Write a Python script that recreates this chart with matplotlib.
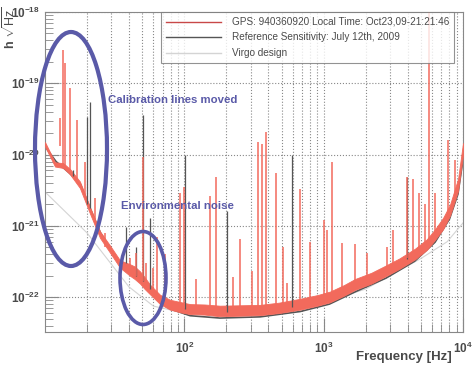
import matplotlib
matplotlib.use("Agg")
import matplotlib.pyplot as plt
from matplotlib.patches import Ellipse
from matplotlib.lines import Line2D
from matplotlib.ticker import LogLocator, NullFormatter

plt.rcParams["font.family"] = ["Liberation Sans", "DejaVu Sans"]
plt.rcParams["mathtext.fontset"] = "custom"
plt.rcParams["mathtext.rm"] = "Liberation Sans"
plt.rcParams["mathtext.bf"] = "Liberation Sans:bold"

# -----------------------------
# Data
# -----------------------------
# red band (Oct 23 spectrum): lower / upper edge
band_f = [10, 11.8, 13.5, 15.1, 17.8, 21, 24.8, 29.3, 34.5, 40.7, 44, 48.1, 52, 56.7,
          67, 79, 95, 110, 140, 180, 250, 349, 480, 677, 900, 1112, 1400, 1680, 2200,
          2760, 3500, 4530, 5500, 6310, 7200, 8080, 9220, 10000]
band_lo = [1.3e-20, 6.8e-21, 6.5e-21, 5.3e-21, 3.4e-21, 1.5e-21, 6.8e-22, 4.2e-22,
           2.6e-22, 2.0e-22, 1.8e-22, 1.55e-22, 1.3e-22, 1.1e-22, 8e-23, 6.7e-23,
           6.1e-23, 5.8e-23, 5.7e-23, 5.4e-23, 5.5e-23, 5.6e-23, 6.0e-23, 6.7e-23,
           7.6e-23, 8.5e-23, 1.05e-22, 1.27e-22, 1.55e-22, 1.95e-22, 2.5e-22, 3.4e-22,
           4.6e-22, 6.4e-22, 9.0e-22, 1.4e-21, 3.1e-21, 9.8e-21]
band_hi = [1.5e-20, 7.8e-21, 7.6e-21, 6.3e-21, 4.2e-21, 1.85e-21, 8.4e-22, 5.3e-22,
           3.3e-22, 2.9e-22, 2.7e-22, 2.3e-22, 1.9e-22, 1.5e-22, 1.08e-22, 9.2e-23,
           8.5e-23, 8.0e-23, 7.9e-23, 7.6e-23, 7.7e-23, 7.8e-23, 8.4e-23, 9.5e-23,
           1.07e-22, 1.2e-22, 1.48e-22, 1.8e-22, 2.2e-22, 2.75e-22, 3.5e-22, 4.8e-22,
           6.5e-22, 9.0e-22, 1.3e-21, 2.0e-21, 4.6e-21, 1.45e-20]

# red lines
red_peak_f = [12.8, 13.5, 13.9, 15.1, 17.0, 19.5, 23, 27, 41, 45, 50.6, 53, 60, 63.7,
              72.6, 93.1, 99.5, 121, 153, 169, 224, 251, 306, 338, 361, 386, 455, 511,
              546, 677, 799, 1007, 1057, 1148, 1355, 1680, 2050, 2850, 3150, 3970, 4390,
              4840, 5350, 5710, 6310, 7820, 8770]
red_peak_top = [3.3e-20, 2.9e-19, 1.9e-19, 8.7e-20, 3.1e-20, 8e-21, 2.5e-21, 8e-22,
                3.6e-22, 4.2e-22, 9.3e-21, 3.0e-22, 2.6e-22, 7.1e-22, 4.0e-22, 2.9e-21,
                3.5e-21, 1.8e-22, 2.6e-21, 4.9e-21, 1.9e-22, 6.5e-22, 2.3e-22, 1.5e-20,
                1.4e-20, 2.1e-20, 5.6e-21, 5.1e-22, 1.6e-22, 3.3e-21, 6.0e-22, 1.2e-21,
                8.9e-22, 7.8e-21, 5.8e-22, 5.5e-22, 4.2e-22, 5.1e-22, 8.9e-22, 4.9e-21,
                4.5e-21, 2.9e-21, 2.0e-21, 1e-18, 2.9e-21, 1.6e-20, 8.5e-21]
red_peak_base = [1.3e-20, 7e-21, 7e-21, 6e-21, 4e-21, 2.5e-21, 1.1e-21, 5e-22, 2.4e-22,
                 2e-22, 1.7e-22, 1.5e-22, 1.2e-22, 1.1e-22, 9e-23, 7e-23, 7e-23, 6.8e-23,
                 6.5e-23, 6.5e-23, 6.3e-23, 6.3e-23, 6.4e-23, 6.4e-23, 6.5e-23, 6.5e-23,
                 6.8e-23, 7e-23, 7.2e-23, 7.9e-23, 8.5e-23, 1e-22, 1e-22, 1.05e-22,
                 1.2e-22, 1.5e-22, 1.8e-22, 2.4e-22, 2.7e-22, 3.6e-22, 4e-22, 4.5e-22,
                 5e-22, 5.5e-22, 7.6e-22, 1.4e-21, 2.5e-21]

# reference sensitivity (July 12th, 2009)
ref_f = [10, 12, 15, 18, 21, 25, 30, 35, 40, 48, 57, 67, 80, 110, 180, 350, 680,
         1100, 1700, 2800, 4500, 6300, 8000, 9200, 10000]
ref_h = [1.3e-20, 8e-21, 5.5e-21, 3.8e-21, 1.8e-21, 8e-22, 4.5e-22, 2.8e-22, 2.2e-22,
         1.9e-22, 1.2e-22, 8.5e-23, 6.8e-23, 5.5e-23, 5.1e-23, 5.3e-23, 6.3e-23, 8.0e-23,
         1.2e-22, 1.85e-22, 3.2e-22, 5.9e-22, 1.25e-21, 2.8e-21, 8.5e-21]
ref_peak_f = [16, 20.0, 21.0, 38.1, 45, 50.6, 56.7, 101, 203, 593, 3970]
ref_peak_top = [6e-21, 3.4e-20, 5.5e-20, 9.8e-22, 5e-22, 3.6e-20, 1.3e-21, 1e-20, 1.6e-21,
                1e-20, 4.9e-21]
ref_peak_base = [5e-21, 2e-21, 1.8e-21, 3e-22, 2e-22, 1.7e-22, 1.3e-22, 6.8e-23, 6.2e-23,
                 7.2e-23, 3.4e-22]

# Virgo design curve
design_f = [10, 20, 40, 60, 100, 200, 500, 1000, 2000, 5000, 7700, 10000]
design_h = [3e-21, 8e-22, 1.4e-22, 7.5e-23, 6e-23, 5.8e-23, 6.2e-23, 8.5e-23, 1.3e-22,
            3.5e-22, 6e-22, 1.1e-21]

x_ticks = [100, 1000, 10000]
y_ticks = [1e-22, 1e-21, 1e-20, 1e-19, 1e-18]

legend_labels = ["GPS: 940360920 Local Time: Oct23,09-21:21:46",
                 "Reference Sensitivity: July 12th, 2009",
                 "Virgo design"]

red = "#f26a5c"
dark = "#555555"
light = "#d4d4d4"
blue = "#5a5aa8"
txt = "#4a4a4a"

fig = plt.figure(figsize=(4.75, 3.65), dpi=100)
ax = fig.add_axes([45 / 475, 1 - 332 / 365, 418 / 475, 320 / 365])
ax.set_xscale("log")
ax.set_yscale("log")

ax.plot(design_f, design_h, color=light, lw=0.8, zorder=1)
ax.plot(ref_f, ref_h, color=dark, lw=1.2, zorder=2)
ax.fill_between(band_f, band_lo, band_hi, color=red, lw=0.6, zorder=3)
ax.vlines(ref_peak_f, ref_peak_base, ref_peak_top, color=dark, lw=0.9, zorder=4)
ax.vlines(red_peak_f, red_peak_base, red_peak_top, color=red, lw=1.1, zorder=5)

# grid / ticks
ax.xaxis.set_minor_locator(LogLocator(base=10, subs=range(2, 10), numticks=20))
ax.xaxis.set_minor_formatter(NullFormatter())
ax.yaxis.set_minor_locator(LogLocator(base=10, subs=range(2, 10), numticks=20))
ax.yaxis.set_minor_formatter(NullFormatter())
ax.set_xticks(x_ticks)
ax.set_yticks(y_ticks)
ax.set_xlim(10, 1e4)
ax.set_ylim(3.25e-23, 1e-18)
ax.grid(True, which="major", color="#888888", ls=":", lw=0.8)
ax.grid(True, which="minor", axis="x", color="#888888", ls=":", lw=0.8)
ax.set_axisbelow(True)
ax.tick_params(which="both", direction="in", colors="#888888", labelcolor=txt,
               labelsize=8.5, top=False, right=False)
ax.tick_params(which="major", length=10)
ax.tick_params(which="minor", length=6)
ax.tick_params(axis="x", pad=6)
for lab in ax.get_xticklabels() + ax.get_yticklabels():
    lab.set_fontweight("bold")
for s in ax.spines.values():
    s.set_color("#888888")
    s.set_linewidth(0.8)

# legend
handles = [Line2D([], [], color="#c84848", lw=1.0),
           Line2D([], [], color=dark, lw=1.0),
           Line2D([], [], color=light, lw=1.0)]
leg = fig.legend(handles, legend_labels, loc="upper right",
                 bbox_to_anchor=(454 / 475, 1 - 12 / 365), fontsize=7.2,
                 frameon=True, fancybox=False, handlelength=5.5, handletextpad=1.1,
                 labelspacing=0.55, borderpad=0.5, borderaxespad=0)
leg.get_frame().set_edgecolor("#777777")
leg.get_frame().set_linewidth(0.8)
for t in leg.get_texts():
    t.set_color(txt)

# labels
fig.text(0.02, 1 - 7 / 365, r"h $\sqrt{\mathrm{Hz}}$", rotation=90, ha="center",
         va="top", fontsize=9, fontweight="bold", color=txt)
fig.text(452 / 475, 1 - 357 / 365, "Frequency [Hz]", ha="right", va="center",
         fontsize=9.5, fontweight="bold", color=txt)

# annotations
fig.add_artist(Ellipse((71 / 475, 1 - 149 / 365), 72 / 475, 234 / 365,
                       transform=fig.transFigure, fill=False, ec=blue, lw=3))
fig.add_artist(Ellipse((143 / 475, 1 - 278 / 365), 46 / 475, 93 / 365,
                       transform=fig.transFigure, fill=False, ec=blue, lw=2.6))
fig.text(108 / 475, 1 - 100 / 365, "Calibration lines moved", ha="left", va="center",
         fontsize=8.2, fontweight="bold", color=blue)
fig.text(121 / 475, 1 - 206 / 365, "Environmental noise", ha="left", va="center",
         fontsize=8.2, fontweight="bold", color=blue)

fig.savefig("out.png", dpi=100)
